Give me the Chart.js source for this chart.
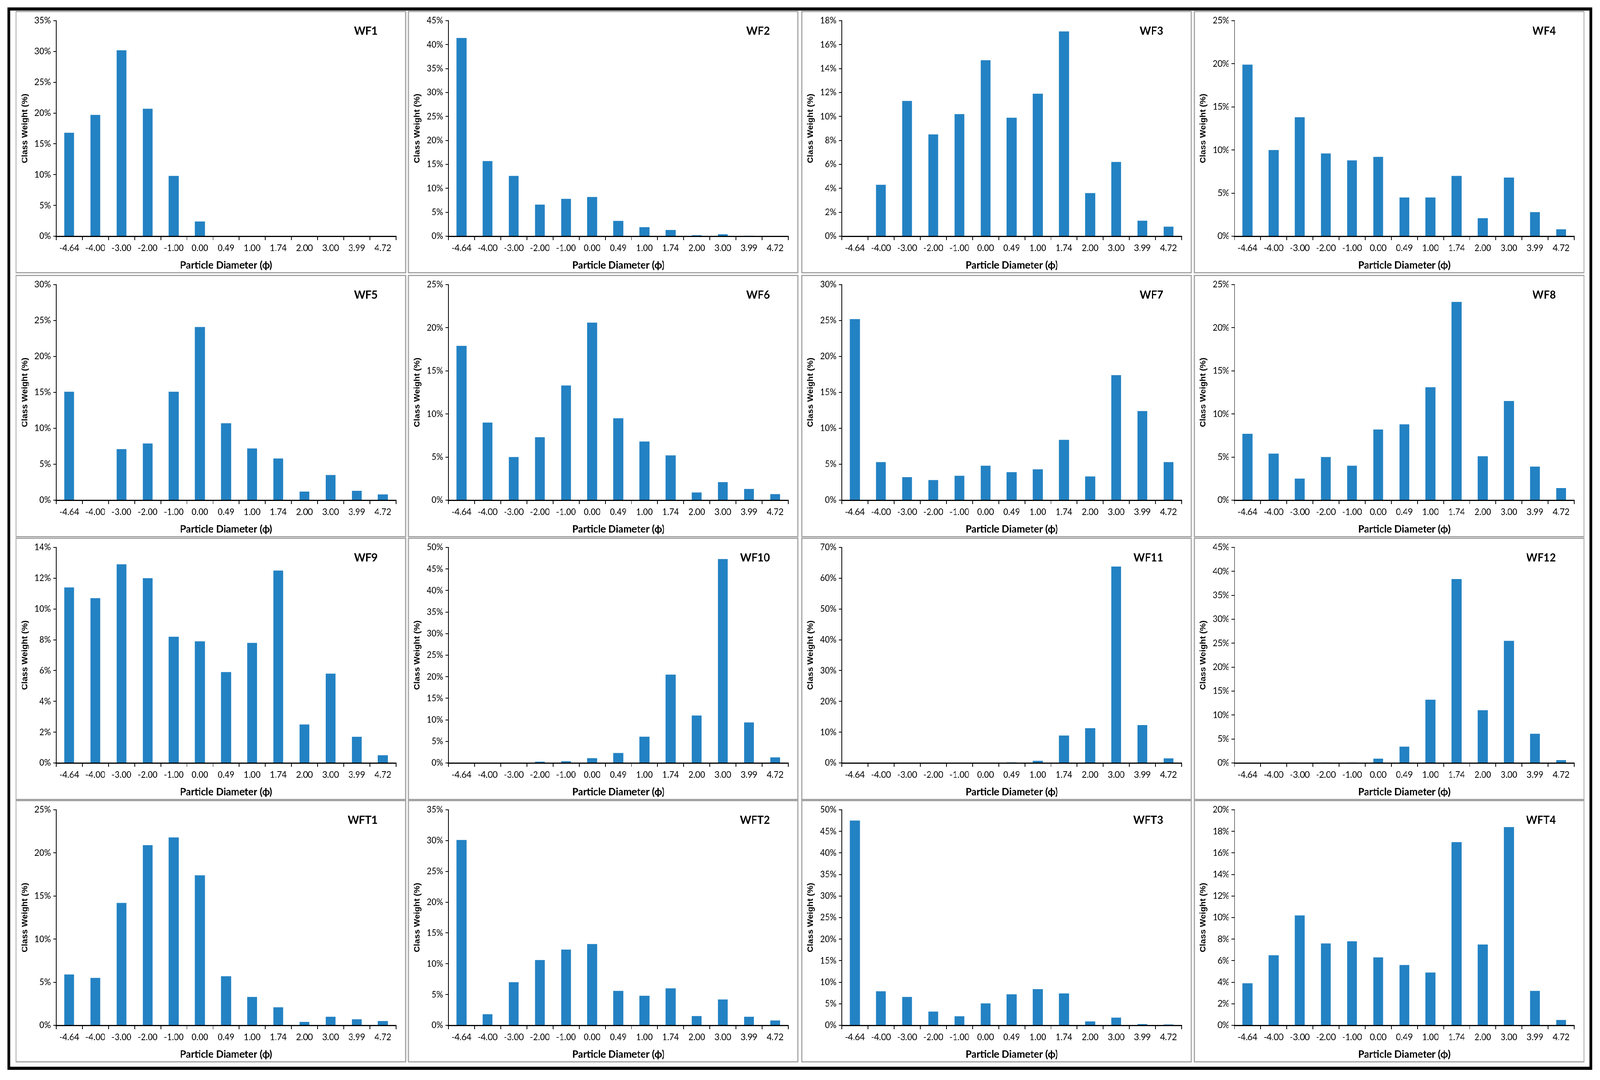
<!DOCTYPE html>
<html>
<head>
<meta charset="utf-8">
<title>Class weight by particle diameter</title>
<script src="https://cdn.jsdelivr.net/npm/chart.js@4.4.1/dist/chart.umd.min.js"></script>
<style>
  html, body { margin: 0; padding: 0; background: #fff; overflow: hidden; }
  #stage { width: 4348px; height: 2766px; position: absolute; left: 0; top: 0; transform-origin: 0 0; }
  #frame { position: absolute; left: 20px; top: 19px; width: 4291px; height: 2705px; border: 8px solid #000; }
  .panel { position: absolute; box-sizing: border-box; border: 3px solid #a3a3a3; background: #fff; }
  .panel canvas { display: block; }
</style>
</head>
<body>
<div id="stage">
  <div id="frame"></div>
  <div id="panels"></div>
</div>
<script>
// particle diameter classes (phi)
const categories = ['-4.64', '-4.00', '-3.00', '-2.00', '-1.00', '0.00', '0.49', '1.00', '1.74', '2.00', '3.00', '3.99', '4.72'];

// class weight (%) per sample
const wf1  = [16.8, 19.7, 30.2, 20.7, 9.8, 2.4, 0, 0, 0, 0, 0, 0, 0];
const wf2  = [41.4, 15.7, 12.6, 6.6, 7.8, 8.2, 3.2, 1.9, 1.3, 0.2, 0.4, 0.1, 0];
const wf3  = [0, 4.3, 11.3, 8.5, 10.2, 14.7, 9.9, 11.9, 17.1, 3.6, 6.2, 1.3, 0.8];
const wf4  = [19.9, 10.0, 13.8, 9.6, 8.8, 9.2, 4.5, 4.5, 7.0, 2.1, 6.8, 2.8, 0.8];
const wf5  = [15.1, 0, 7.1, 7.9, 15.1, 24.1, 10.7, 7.2, 5.8, 1.2, 3.5, 1.3, 0.8];
const wf6  = [17.9, 9.0, 5.0, 7.3, 13.3, 20.6, 9.5, 6.8, 5.2, 0.9, 2.1, 1.3, 0.7];
const wf7  = [25.2, 5.3, 3.2, 2.8, 3.4, 4.8, 3.9, 4.3, 8.4, 3.3, 17.4, 12.4, 5.3];
const wf8  = [7.7, 5.4, 2.5, 5.0, 4.0, 8.2, 8.8, 13.1, 23.0, 5.1, 11.5, 3.9, 1.4];
const wf9  = [11.4, 10.7, 12.9, 12.0, 8.2, 7.9, 5.9, 7.8, 12.5, 2.5, 5.8, 1.7, 0.5];
const wf10 = [0, 0, 0, 0.3, 0.4, 1.1, 2.3, 6.1, 20.5, 11.0, 47.3, 9.4, 1.3];
const wf11 = [0, 0, 0, 0, 0, 0, 0.2, 0.7, 8.9, 11.3, 63.8, 12.3, 1.5];
const wf12 = [0, 0, 0, 0.1, 0.1, 0.9, 3.4, 13.2, 38.4, 11.0, 25.5, 6.1, 0.6];
const wft1 = [5.9, 5.5, 14.2, 20.9, 21.8, 17.4, 5.7, 3.3, 2.1, 0.4, 1.0, 0.7, 0.5];
const wft2 = [30.1, 1.8, 7.0, 10.6, 12.3, 13.2, 5.6, 4.8, 6.0, 1.5, 4.2, 1.4, 0.8];
const wft3 = [47.5, 7.9, 6.6, 3.2, 2.1, 5.1, 7.2, 8.4, 7.4, 0.9, 1.8, 0.3, 0.2];
const wft4 = [3.9, 6.5, 10.2, 7.6, 7.8, 6.3, 5.6, 4.9, 17.0, 7.5, 18.4, 3.2, 0.5];

const panelNames = ['WF1', 'WF2', 'WF3', 'WF4', 'WF5', 'WF6', 'WF7', 'WF8',
                    'WF9', 'WF10', 'WF11', 'WF12', 'WFT1', 'WFT2', 'WFT3', 'WFT4'];
const panelSeries = [wf1, wf2, wf3, wf4, wf5, wf6, wf7, wf8, wf9, wf10, wf11, wf12, wft1, wft2, wft3, wft4];

// y axis tick labels: top value and step (%)
const yMax  = [35, 45, 18, 25, 30, 25, 30, 25, 14, 50, 70, 45, 25, 35, 50, 20];
const yStep = [5, 5, 2, 5, 5, 5, 5, 5, 2, 5, 10, 5, 5, 5, 5, 2];

const colLeft = [42, 1108, 2177, 3244];
const rowTop = [28, 704, 1377, 2049];
const panelW = 1062;
const panelH = 672;

const barBlue = '#2382c3';

// stretch the 4348x2766 layout over whatever viewport we get
function fitStage() {
    const sx = window.innerWidth / 4348;
    const sy = window.innerHeight / 2766;
    document.getElementById('stage').style.transform = 'scale(' + sx + ',' + sy + ')';
}
fitStage();
window.addEventListener('resize', fitStage);

// sample name drawn inside the plot, top right
const panelLabel = {
    id: 'panelLabel',
    afterDraw(chart, args, opts) {
        const { ctx, chartArea } = chart;
        ctx.save();
        ctx.font = 'bold 29px Lato';
        ctx.fillStyle = '#000';
        ctx.textAlign = 'right';
        ctx.textBaseline = 'top';
        ctx.fillText(opts.text, chartArea.right - 50, chartArea.top + 12);
        ctx.restore();
    }
};

function makePanel(i) {
    const box = document.createElement('div');
    box.className = 'panel';
    box.style.left = colLeft[i % 4] + 'px';
    box.style.top = rowTop[Math.floor(i / 4)] + 'px';
    box.style.width = panelW + 'px';
    box.style.height = panelH + 'px';
    const canvas = document.createElement('canvas');
    box.appendChild(canvas);
    document.getElementById('panels').appendChild(box);

    new Chart(canvas.getContext('2d'), {
        type: 'bar',
        data: {
            labels: categories,
            datasets: [{
                data: panelSeries[i],
                backgroundColor: barBlue,
                borderWidth: 0,
                barPercentage: 0.38,
                categoryPercentage: 1
            }]
        },
        options: {
            animation: false,
            responsive: true,
            maintainAspectRatio: false,
            layout: { padding: { left: 10, top: 22, right: 25, bottom: 2 } },
            plugins: {
                legend: { display: false },
                tooltip: { enabled: false },
                panelLabel: { text: panelNames[i] }
            },
            scales: {
                x: {
                    grid: { display: true, drawOnChartArea: false, drawTicks: true, tickLength: 10, color: '#000', lineWidth: 2, offset: true },
                    border: { display: true, color: '#000', width: 3 },
                    ticks: { color: '#000', font: { family: 'Lato', size: 23 }, padding: 7, maxRotation: 0, autoSkip: false },
                    title: {
                        display: true,
                        text: 'Particle Diameter (ϕ)',
                        color: '#000',
                        font: { family: 'Lato', size: 27, weight: 'bold' },
                        padding: { top: 6, bottom: 0 }
                    }
                },
                y: {
                    min: 0,
                    max: yMax[i],
                    ticks: {
                        stepSize: yStep[i],
                        callback: v => v + '%',
                        color: '#000',
                        font: { family: 'Lato', size: 23 },
                        padding: 6
                    },
                    grid: { drawOnChartArea: false, drawTicks: true, tickLength: 8, color: '#000', lineWidth: 2 },
                    border: { display: true, color: '#000', width: 2 },
                    title: {
                        display: true,
                        text: 'Class Weight (%)',
                        color: '#000',
                        font: { family: 'Liberation Sans', size: 22, weight: 'bold' },
                        padding: { top: 0, bottom: 6 }
                    }
                }
            }
        },
        plugins: [panelLabel]
    });
}

document.fonts.ready.then(() => {
    for (let i = 0; i < panelSeries.length; i++) makePanel(i);
});
</script>
</body>
</html>
